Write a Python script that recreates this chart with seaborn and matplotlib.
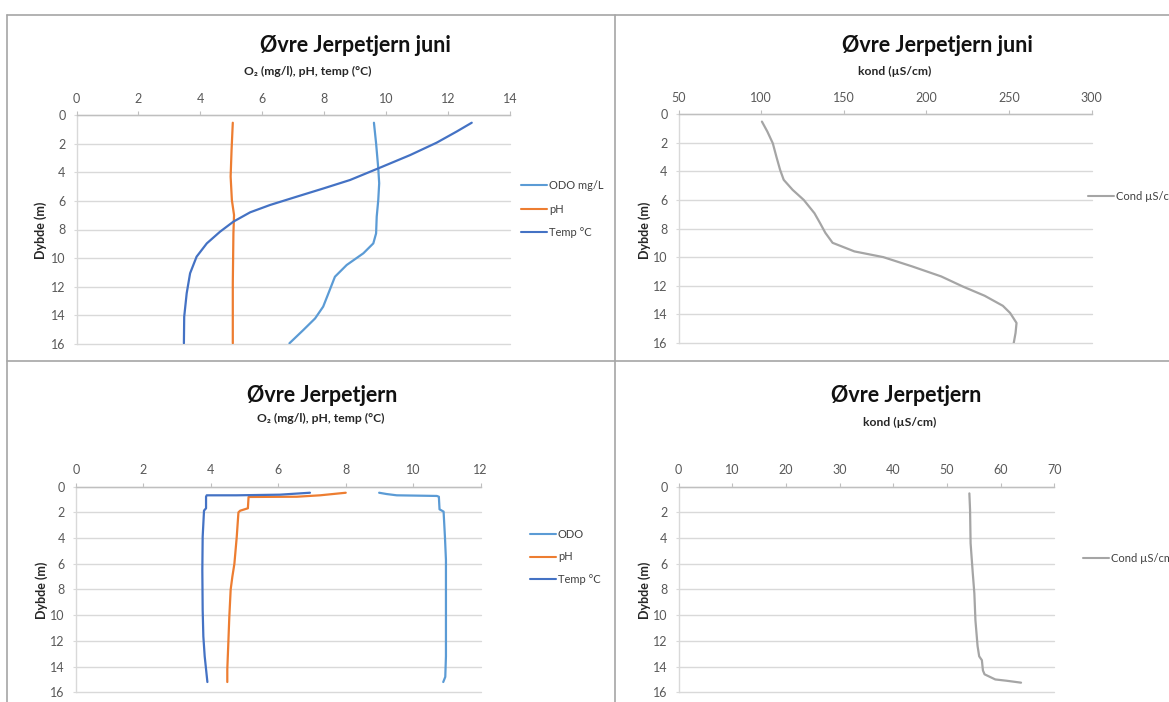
import numpy as np
import pandas as pd
import matplotlib
matplotlib.use("Agg")
import matplotlib.pyplot as plt
import seaborn as sns
from matplotlib.lines import Line2D

# ---------------- data ----------------
# June profile, Øvre Jerpetjern
jun_odo_depth = [0.54, 1.98, 3.73, 4.77, 5.94, 7.10, 8.27, 8.97, 9.66, 10.48, 11.30, 12.46, 13.39, 14.21, 15.02, 15.95]
jun_odo = [9.61, 9.68, 9.75, 9.78, 9.75, 9.70, 9.68, 9.59, 9.27, 8.73, 8.35, 8.14, 7.97, 7.71, 7.33, 6.88]

jun_ph_depth = [0.54, 2.45, 4.30, 5.94, 6.99, 8.27, 11.76, 15.95]
jun_ph = [5.05, 5.01, 4.98, 5.02, 5.09, 5.07, 5.05, 5.05]

jun_temp_depth = [0.54, 1.16, 1.93, 2.80, 3.73, 4.54, 5.13, 5.71, 6.29, 6.80, 7.45, 8.15, 8.97, 9.90, 11.06, 12.46, 14.09, 15.95]
jun_temp = [12.77, 12.28, 11.64, 10.78, 9.75, 8.84, 7.98, 7.11, 6.25, 5.61, 5.07, 4.64, 4.21, 3.88, 3.67, 3.56, 3.48, 3.47]

jun_cond_depth = [0.53, 1.23, 2.05, 3.0, 3.9, 4.6, 5.3, 6.0, 6.93, 7.6, 8.3, 9.0, 9.6, 10.0, 10.65, 11.35, 12.05, 12.7, 13.4, 13.9, 14.6, 15.3, 16.0]
jun_cond = [100.4, 103.7, 107.0, 109.2, 111.4, 113.6, 119.0, 125.7, 132.2, 135.5, 138.8, 143.2, 156.4, 173.9, 191.4, 209.0, 222.0, 235.3, 246.3, 250.7, 254.6, 254.0, 252.9]

# Second profile, Øvre Jerpetjern
odo_depth = [0.47, 0.57, 0.67, 0.72, 0.78, 1.76, 1.94, 3.9, 5.7, 9.0, 13.2, 14.8, 15.2]
odo = [8.99, 9.21, 9.51, 10.70, 10.76, 10.78, 10.90, 10.94, 10.97, 10.97, 10.97, 10.95, 10.89]

ph_depth = [0.47, 0.67, 0.78, 0.80, 1.68, 1.87, 2.0, 3.9, 6.0, 7.0, 8.0, 10.1, 12.2, 14.2, 15.2]
ph = [8.0, 7.24, 6.55, 5.12, 5.10, 4.87, 4.82, 4.77, 4.70, 4.64, 4.59, 4.55, 4.52, 4.49, 4.49]

temp_depth = [0.47, 0.62, 0.67, 0.67, 0.78, 1.68, 1.86, 3.9, 6.5, 9.6, 11.65, 13.2, 14.2, 15.2]
temp = [6.94, 6.05, 4.77, 3.88, 3.86, 3.86, 3.80, 3.76, 3.75, 3.76, 3.78, 3.82, 3.86, 3.90]

cond_depth = [0.52, 1.8, 4.4, 6.7, 8.3, 10.4, 12.4, 13.2, 13.5, 14.3, 14.6, 14.8, 15.0, 15.1, 15.25]
cond = [54.17, 54.3, 54.4, 54.8, 55.1, 55.3, 55.7, 56.0, 56.5, 56.7, 57.0, 58.0, 59.0, 61.1, 63.8]

# labels
title_jun = "Øvre Jerpetjern juni"
title_main = "Øvre Jerpetjern"
xlabel_chem = "O₂ (mg/l), pH, temp (°C)"
xlabel_cond = "kond (µS/cm)"
ylabel = "Dybde (m)"

C_ODO, C_PH, C_TEMP, C_COND = "#5B9BD5", "#ED7D31", "#4472C4", "#A5A5A5"

# ---------------- figure ----------------
sns.set_theme(style="white")
plt.rcParams["font.family"] = ["Lato", "DejaVu Sans"]

W, H = 1169, 702
fig = plt.figure(figsize=(W / 100, H / 100), dpi=100)
fig.patch.set_facecolor("white")


def px_axes(l, t, r, b):
    return fig.add_axes([l / W, 1 - b / H, (r - l) / W, (b - t) / H])


def long_frame(series):
    rows = []
    for name, vals, depths in series:
        for v, d in zip(vals, depths):
            rows.append({"verdi": v, "dybde": d, "serie": name})
    return pd.DataFrame(rows)


def style_axes(ax, xlim, xstep, xlabel, xlabel_px, ylabel_px, box):
    l, t, r, b = box
    ax.set_xlim(*xlim)
    ax.set_ylim(16, 0)
    ax.set_xticks(np.arange(xlim[0], xlim[1] + 0.01, xstep))
    ax.set_yticks(np.arange(0, 17, 2))
    ax.xaxis.tick_top()
    ax.grid(False)
    ax.grid(axis="y", color="#d9d9d9", lw=1.0)
    for gl in ax.get_ygridlines():
        gl.set_clip_on(False)
    ax.spines["right"].set_visible(False)
    ax.spines["bottom"].set_visible(False)
    ax.spines["top"].set_color("#bfbfbf")
    ax.spines["top"].set_linewidth(1.0)
    ax.spines["left"].set_color("#d9d9d9")
    ax.spines["left"].set_linewidth(1.0)
    ax.tick_params(axis="x", top=True, bottom=False, labeltop=True, labelbottom=False,
                   length=3, width=0.8, color="#bfbfbf", labelsize=9,
                   labelcolor="#595959", pad=4.5)
    ax.tick_params(axis="y", left=True, length=2.5, width=0.8, color="#d9d9d9",
                   labelsize=9, labelcolor="#595959", pad=5.5)
    ax.set_facecolor("white")

    # top axis title
    ax.set_xlabel(xlabel, fontsize=8.7, fontweight="bold", color="#262626")
    ax.xaxis.set_label_position("top")
    ax.xaxis.label.set_va("center")
    ax.xaxis.set_label_coords((xlabel_px[0] - l) / (r - l), (b - xlabel_px[1]) / (b - t))

    ax.set_ylabel(ylabel, fontsize=9, fontweight="bold", color="#262626")
    ax.yaxis.label.set_va("center")
    ax.yaxis.set_label_coords((ylabel_px[0] - l) / (r - l), (b - ylabel_px[1]) / (b - t))


def place_legend(ax, x, y, spacing):
    handles, labels = ax.get_legend_handles_labels()
    old = ax.get_legend()
    if old is not None:
        old.remove()
    leg = ax.legend(handles, labels, loc="center left",
                    bbox_to_anchor=(x / W, 1 - y / H), bbox_transform=fig.transFigure,
                    frameon=False, fontsize=8, handlelength=2.3, handletextpad=0.2,
                    labelspacing=spacing, borderpad=0, borderaxespad=0)
    for txt in leg.get_texts():
        txt.set_color("#404040")
    for ln in leg.get_lines():
        ln.set_linewidth(1.5)
    return leg


def fig_title(text, x, y):
    fig.text(x / W, 1 - y / H, text, ha="center", va="center",
             fontsize=15.5, fontweight="bold", color="#111111")


LW = 1.6

# --- top left: June chemistry ---
box = (76.5, 115, 509.8, 344)
ax1 = px_axes(*box)
df1 = long_frame([("ODO mg/L", jun_odo, jun_odo_depth),
                  ("pH", jun_ph, jun_ph_depth),
                  ("Temp °C", jun_temp, jun_temp_depth)])
sns.lineplot(data=df1, x="verdi", y="dybde", hue="serie",
             hue_order=["ODO mg/L", "pH", "Temp °C"],
             palette=[C_ODO, C_PH, C_TEMP], sort=False, estimator=None,
             lw=LW, ax=ax1)
for ln in ax1.get_lines():
    ln.set_solid_joinstyle("round")
style_axes(ax1, (0, 14), 2, xlabel_chem, (308, 71), (41, 230), box)
place_legend(ax1, 521, 209, 1.1)
fig_title(title_jun, 355, 45)

# --- top right: June conductivity ---
box = (678.7, 114, 1091.5, 343)
ax2 = px_axes(*box)
df2 = long_frame([("Cond µS/cm", jun_cond, jun_cond_depth)])
sns.lineplot(data=df2, x="verdi", y="dybde", hue="serie", palette=[C_COND],
             sort=False, estimator=None, lw=LW, ax=ax2)
for ln in ax2.get_lines():
    ln.set_solid_joinstyle("round")
style_axes(ax2, (50, 300), 50, xlabel_cond, (895, 71), (645, 230), box)
place_legend(ax2, 1088, 196, 1.1)
fig_title(title_jun, 937, 45)

# --- bottom left: chemistry ---
box = (75.8, 486.7, 480.7, 692.3)
ax3 = px_axes(*box)
df3 = long_frame([("ODO", odo, odo_depth),
                  ("pH", ph, ph_depth),
                  ("Temp °C", temp, temp_depth)])
sns.lineplot(data=df3, x="verdi", y="dybde", hue="serie",
             hue_order=["ODO", "pH", "Temp °C"],
             palette=[C_ODO, C_PH, C_TEMP], sort=False, estimator=None,
             lw=LW, ax=ax3)
for ln in ax3.get_lines():
    ln.set_solid_joinstyle("round")
style_axes(ax3, (0, 12), 2, xlabel_chem, (321, 418), (42, 590), box)
place_legend(ax3, 530, 557, 1.05)
fig_title(title_main, 322, 395)

# --- bottom right: conductivity ---
box = (678.7, 486.7, 1054.3, 692.3)
ax4 = px_axes(*box)
df4 = long_frame([("Cond µS/cm", cond, cond_depth)])
sns.lineplot(data=df4, x="verdi", y="dybde", hue="serie", palette=[C_COND],
             sort=False, estimator=None, lw=LW, ax=ax4)
for ln in ax4.get_lines():
    ln.set_solid_joinstyle("round")
style_axes(ax4, (0, 70), 10, xlabel_cond, (900, 422), (645, 590), box)
place_legend(ax4, 1083, 558, 1.0)
fig_title(title_main, 906, 395)

# --- chart frame lines ---
frame_kw = dict(transform=fig.transFigure, color="#a6a6a6", lw=1.2)
fig.add_artist(Line2D([7 / W, 7 / W], [1 - 15 / H, 0], **frame_kw))
fig.add_artist(Line2D([7 / W, 1], [1 - 15 / H, 1 - 15 / H], **frame_kw))
fig.add_artist(Line2D([614.5 / W, 614.5 / W], [1 - 15 / H, 0], **frame_kw))
fig.add_artist(Line2D([7 / W, 1], [1 - 361.5 / H, 1 - 361.5 / H], **frame_kw))

fig.savefig("out.png", dpi=100, facecolor="white")
